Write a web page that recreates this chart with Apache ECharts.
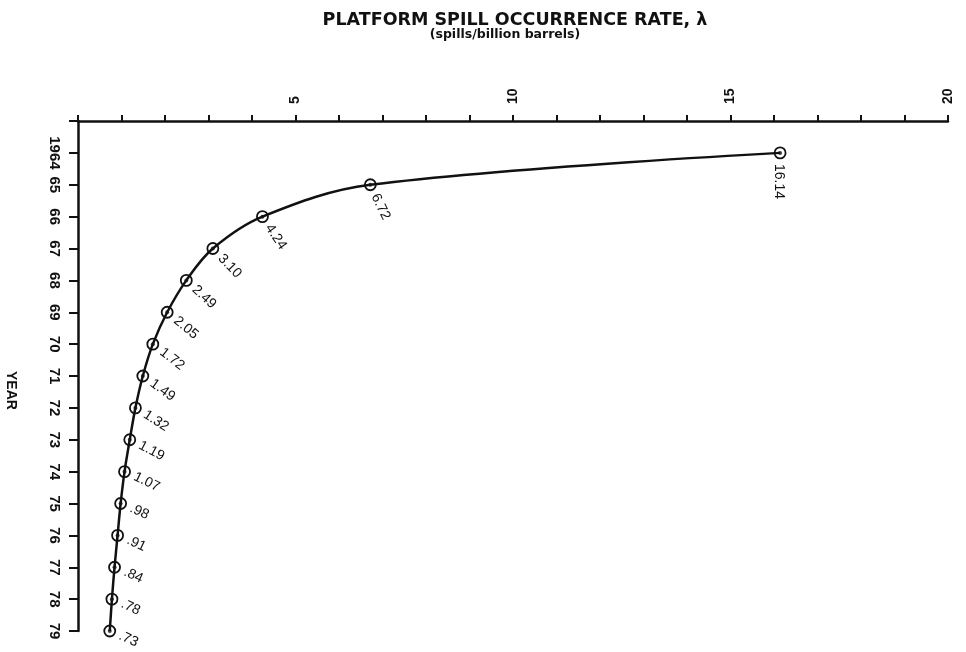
<!DOCTYPE html>
<html><head><meta charset="utf-8">
<script src="https://cdn.jsdelivr.net/npm/echarts@6/dist/echarts.min.js"></script>
<style>html,body{margin:0;padding:0;background:#fff}#c{width:966px;height:652px}</style>
</head><body><div id="c"></div>
<script>
const years = [1964,1965,1966,1967,1968,1969,1970,1971,1972,1973,1974,1975,1976,1977,1978,1979];
const rates = [16.14,6.72,4.24,3.10,2.49,2.05,1.72,1.49,1.32,1.19,1.07,0.98,0.91,0.84,0.78,0.73];
const rateLabels = ['16.14','6.72','4.24','3.10','2.49','2.05','1.72','1.49','1.32','1.19','1.07','.98','.91','.84','.78','.73'];
const yearLabels = ['1964','65','66','67','68','69','70','71','72','73','74','75','76','77','78','79'];
const xTickLabels = ['5','10','15','20'];
const labelAngles = [90,64,56,46,43,40,38,36,33,28,26,25,25,25,25,25];

const chart = echarts.init(document.getElementById('c'), null, {renderer:'canvas'});
const font = "'Liberation Sans', Arial, sans-serif";
const tfont = "'DejaVu Sans', 'Liberation Sans', sans-serif";
const SYM = 11;
const data = years.map((y,i)=>{
  const a = labelAngles[i]*Math.PI/180, d = 12;
  return {
    value:[rates[i], y],
    label:{
      rotate: -labelAngles[i],
      formatter: rateLabels[i],
      position: [SYM/2 + d*Math.cos(a), SYM/2 + d*Math.sin(a)],
      align:'left', verticalAlign:'middle'
    }
  };
});
chart.setOption({
  backgroundColor:'#fff',
  animation:false,
  title:[{
    text:'PLATFORM SPILL OCCURRENCE RATE, λ',
    left:515, top:11, textAlign:'center', padding:0,
    textStyle:{fontFamily:tfont, fontWeight:'bold', fontSize:17.5, color:'#111'}
  },{
    text:'(spills/billion barrels)',
    left:505, top:28, textAlign:'center', padding:0,
    textStyle:{fontFamily:tfont, fontWeight:'bold', fontSize:12.5, color:'#111'}
  }],
  graphic:[{type:'text', left:4, top:371, rotation:-Math.PI/2, originX:0, originY:0,
    style:{text:'YEAR', font:"bold 14px 'Liberation Sans', Arial, sans-serif", fill:'#111'}}],
  grid:{left:78, right:18, top:121, bottom:21},
  xAxis:{
    type:'value', position:'top', min:0, max:20, interval:1,
    axisLine:{lineStyle:{color:'#111', width:2.5}},
    axisTick:{show:true, length:6, lineStyle:{color:'#111', width:2}},
    splitLine:{show:false},
    axisLabel:{
      rotate:-90, margin:17, fontFamily:font, fontWeight:'bold', fontSize:14, color:'#111',
      formatter:v=>{const k=xTickLabels.indexOf(String(v)); return k>=0?xTickLabels[k]:'';}
    }
  },
  yAxis:{
    type:'value', inverse:true, min:1963, max:1979, interval:1,
    axisLine:{lineStyle:{color:'#111', width:2.5}},
    axisTick:{show:true, length:9, lineStyle:{color:'#111', width:2}},
    splitLine:{show:false},
    axisLabel:{
      rotate:-90, margin:16, fontFamily:font, fontWeight:'bold', fontSize:15, color:'#111',
      formatter:v=>{const k=years.indexOf(v); return k>=0?yearLabels[k]:'';}
    }
  },
  series:[{
    type:'line', data:data, smooth:0.35,
    lineStyle:{color:'#111', width:2.5},
    symbol:'circle', symbolSize:SYM,
    itemStyle:{color:'rgba(255,255,255,0)', borderColor:'#111', borderWidth:1.8},
    label:{show:true, fontFamily:font, fontSize:14, color:'#111'},
    z:3
  },{
    type:'scatter', data:years.map((y,i)=>[rates[i],y]), symbol:'circle', symbolSize:4,
    itemStyle:{color:'#111'}, z:4, silent:true
  }]
});
</script></body></html>
